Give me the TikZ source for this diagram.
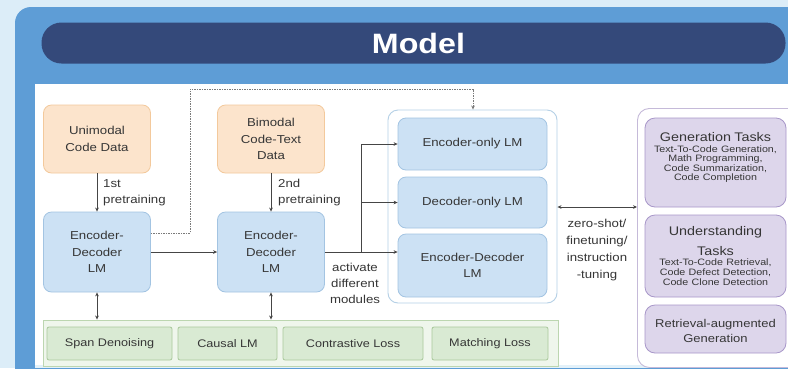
\documentclass[tikz,border=0pt]{standalone}
\usepackage{fontspec}
\setmainfont{Liberation Sans}
\newfontfamily\mf[FakeStretch=1.15]{Liberation Sans}
\usetikzlibrary{arrows.meta,calc}

\definecolor{bgblue}{HTML}{DCEDF8}
\definecolor{panel}{HTML}{5E9DD6}
\definecolor{navy}{HTML}{34497A}
\definecolor{txt}{HTML}{363636}
\definecolor{orfill}{HTML}{FCE4CC}
\definecolor{ordraw}{HTML}{F3C99C}
\definecolor{blfill}{HTML}{CCE1F4}
\definecolor{bldraw}{HTML}{A3C4E2}
\definecolor{modraw}{HTML}{B5D0E6}
\definecolor{grfill}{HTML}{D9EAD3}
\definecolor{grdraw}{HTML}{A9C89B}
\definecolor{grcont}{HTML}{EFF6EC}
\definecolor{grcdraw}{HTML}{BCD6B0}
\definecolor{pufill}{HTML}{DDD6EB}
\definecolor{pudraw}{HTML}{A897C9}
\definecolor{pucdraw}{HTML}{C5BAD9}
\definecolor{arr}{HTML}{454545}
\definecolor{dotc}{HTML}{7A7A7A}

\begin{document}
\begin{tikzpicture}[x=1pt,y=-1pt,
  box/.style={rounded corners=8pt, line width=0.8pt, text=txt, align=center, inner sep=0pt,
    font=\mf\fontsize{11.5}{16.5}\selectfont},
  orbox/.style={box, fill=orfill, draw=ordraw},
  blbox/.style={box, fill=blfill, draw=bldraw},
  grbox/.style={box, fill=grfill, draw=grdraw, rounded corners=2pt, font=\mf\fontsize{11}{14}\selectfont},
  pubox/.style={box, fill=pufill, draw=pudraw, rounded corners=10pt},
  ptext/.style={text=txt, align=center, text width=140pt, inner sep=0pt},
  lbl/.style={text=txt, inner sep=0pt, font=\mf\fontsize{11.5}{16}\selectfont},
  arrline/.style={draw=arr, line width=0.8pt, -{Stealth[length=4pt,width=3.6pt]}},
  biarr/.style={draw=arr, line width=0.8pt, {Stealth[length=4pt,width=3.6pt]}-{Stealth[length=4pt,width=3.6pt]}},
  dotline/.style={draw=dotc, line width=1pt, dash pattern=on 1.2pt off 1.3pt, -{Stealth[length=4pt,width=3.6pt]}}
]
\clip (0,0) rectangle (788,368);
\useasboundingbox (0,0) rectangle (788,368);

% backgrounds
\fill[bgblue] (0,0) rectangle (788,368);
\fill[panel, rounded corners=16pt] (15,7) rectangle (840,420);
\node[fill=navy, rounded corners=20pt, minimum width=744pt, minimum height=41pt, inner sep=0pt,
  text=white, font=\mf\bfseries\fontsize{28}{30}\selectfont] (title) at (413.5,43) {\hspace*{10pt}Model};
\fill[white] (35,84) rectangle (800,365);
\fill[bgblue!80!white] (35,365) rectangle (800,368);

% containers
\node[draw=modraw, fill=white, line width=0.9pt, rounded corners=10pt, minimum width=169pt, minimum height=193pt, inner sep=0pt] (modc) at (472.5,206.5) {};
\node[draw=grcdraw, fill=grcont, line width=0.9pt, minimum width=515pt, minimum height=46pt, inner sep=0pt] (grc) at (300.5,343) {};
\node[draw=pucdraw, fill=white, line width=0.9pt, rounded corners=12pt, minimum width=170pt, minimum height=259pt, inner sep=0pt, anchor=north west] (tc) at (637,108) {};

% left boxes
\node[orbox, minimum width=107pt, minimum height=68pt] (uni) at (97,139) {Unimodal\\Code Data};
\node[blbox, minimum width=107pt, minimum height=80pt] (ed1) at (97,252) {Encoder-\\Decoder\\LM};
\node[orbox, minimum width=107pt, minimum height=68pt] (bi) at (271,139) {Bimodal\\Code-Text\\Data};
\node[blbox, minimum width=107pt, minimum height=80pt] (ed2) at (271,252) {Encoder-\\Decoder\\LM};

% model boxes
\node[blbox, minimum width=149pt, minimum height=52pt] (eo) at (472.5,144) {Encoder-only LM};
\node[blbox, minimum width=149pt, minimum height=51pt] (do) at (472.5,202.5) {Decoder-only LM};
\node[blbox, minimum width=149pt, minimum height=63pt] (edlm) at (472.5,265.5) {Encoder-Decoder\\LM};

% objective boxes
\node[grbox, minimum width=125pt, minimum height=33pt] (span) at (109.5,343.5) {Span Denoising};
\node[grbox, minimum width=99pt, minimum height=33pt] (causal) at (227.5,343.5) {Causal LM};
\node[grbox, minimum width=140pt, minimum height=33pt] (contr) at (353,343.5) {Contrastive Loss};
\node[grbox, minimum width=116pt, minimum height=33pt] (match) at (490,343.5) {Matching Loss};

% task boxes
\node[pubox, minimum width=141pt, minimum height=89pt] (gen) at (715.5,162.5) {};
\node[pubox, minimum width=141pt, minimum height=82pt] (und) at (715.5,256) {};
\node[pubox, minimum width=141pt, minimum height=48pt] (rag) at (715.5,329) {};
\node[ptext] (gent) at (gen.center) [yshift=5pt] {{\mf\fontsize{12.5}{15}\selectfont Generation Tasks\par}\vspace{1.5pt}{\mf\fontsize{9.3}{9.4}\selectfont Text-To-Code Generation,\\ Math Programming,\\ Code Summarization,\\ Code Completion\par}};
\node[ptext] (undt) at (und.center) {{\mf\fontsize{12.5}{20}\selectfont Understanding\\ Tasks\par}\vspace{0.5pt}{\mf\fontsize{9.3}{9.6}\selectfont Text-To-Code Retrieval,\\ Code Defect Detection,\\ Code Clone Detection\par}};
\node[ptext] (ragt) at (rag.center) [yshift=-1.5pt] {{\mf\fontsize{11.3}{15}\selectfont Retrieval-augmented\\ Generation\par}};

% labels
\node[lbl, anchor=west, align=left] (l1) at (103,193) {1st\\pretraining};
\node[lbl, anchor=west, align=left] (l2) at (278,193) {2nd\\pretraining};
\node[lbl, align=center] (l3) at (355,283) {activate\\different\\modules};
\node[lbl, align=center, font=\mf\fontsize{11.5}{16.7}\selectfont] (l4) at (597,250) {zero-shot/\\finetuning/\\instruction\\-tuning};

% connectors
\draw[arrline] (uni.south) -- (ed1.north);
\draw[arrline] (bi.south) -- (ed2.north);
\draw[arrline] (ed1.east) -- (ed2.west);
\coordinate (br) at (361,252);
\draw[arrline] (ed2.east) -- (edlm.west |- br);
\draw[arrline] (br) |- (eo.west);
\draw[arrline] (br |- do.west) -- (do.west);
\draw[biarr] (ed1.south) -- (ed1.south |- grc.north);
\draw[biarr] (ed2.south) -- (ed2.south |- grc.north);
\coordinate (mt) at (597,207);
\draw[biarr] (modc.east |- mt) -- (tc.west |- mt);
\coordinate (d1) at (190,233);
\coordinate (d2) at (190,89);
\coordinate (d3) at (473,89);
\draw[dotline] (ed1.east |- d1) -- (d1) -- (d2) -- (d3) -- (d3 |- modc.north);
\end{tikzpicture}
\end{document}
